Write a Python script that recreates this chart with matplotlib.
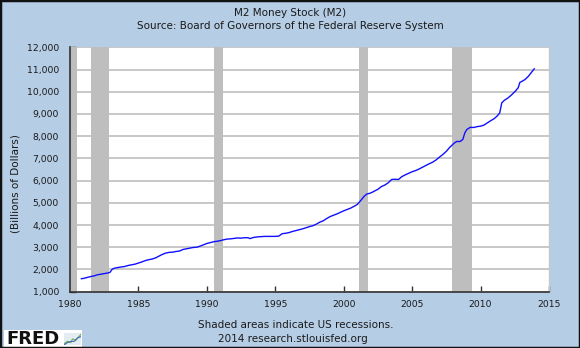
import matplotlib
matplotlib.use("Agg")
import matplotlib.pyplot as plt
from matplotlib.patches import Rectangle
from matplotlib.ticker import FuncFormatter, MultipleLocator

# ---- data ----
years = [1980.83, 1981.0, 1981.25, 1981.5, 1981.75, 1982.0, 1982.25, 1982.5, 1982.75, 1982.92,
         1983.08, 1983.25, 1983.5, 1983.75, 1984.0, 1984.25, 1984.5, 1984.75, 1985.0, 1985.25,
         1985.5, 1985.75, 1986.0, 1986.25, 1986.5, 1986.75, 1987.0, 1987.25, 1987.5, 1987.75,
         1988.0, 1988.25, 1988.5, 1988.75, 1989.0, 1989.25, 1989.5, 1989.75, 1990.0, 1990.25,
         1990.5, 1990.75, 1991.0, 1991.25, 1991.5, 1991.75, 1992.0, 1992.25, 1992.5, 1992.75,
         1993.0, 1993.15, 1993.4, 1993.75, 1994.0, 1994.25, 1994.5, 1994.75, 1995.0, 1995.25,
         1995.5, 1995.75, 1996.0, 1996.25, 1996.5, 1996.75, 1997.0, 1997.25, 1997.5, 1997.75,
         1998.0, 1998.25, 1998.5, 1998.75, 1999.0, 1999.25, 1999.5, 1999.75, 2000.0, 2000.25,
         2000.5, 2000.75, 2001.0, 2001.25, 2001.5, 2001.7, 2001.85, 2002.0, 2002.25, 2002.5,
         2002.75, 2003.0, 2003.25, 2003.5, 2003.75, 2004.0, 2004.25, 2004.5, 2004.75, 2005.0,
         2005.25, 2005.5, 2005.75, 2006.0, 2006.25, 2006.5, 2006.75, 2007.0, 2007.25, 2007.5,
         2007.75, 2007.92, 2008.1, 2008.25, 2008.5, 2008.7, 2008.85, 2009.0, 2009.25, 2009.5,
         2009.75, 2010.0, 2010.25, 2010.5, 2010.75, 2011.0, 2011.25, 2011.4, 2011.55, 2011.75,
         2012.0, 2012.25, 2012.5, 2012.75, 2012.87, 2013.0, 2013.25, 2013.5, 2013.75, 2013.92]
m2 = [1585, 1600, 1640, 1680, 1710, 1760, 1790, 1815, 1840, 1870,
      2010, 2060, 2090, 2115, 2135, 2180, 2210, 2240, 2290, 2340,
      2400, 2440, 2470, 2520, 2600, 2680, 2740, 2770, 2780, 2810,
      2830, 2900, 2930, 2960, 2990, 3000, 3050, 3110, 3170, 3210,
      3250, 3270, 3300, 3340, 3370, 3380, 3400, 3420, 3410, 3430,
      3430, 3390, 3440, 3470, 3480, 3490, 3490, 3490, 3490, 3500,
      3610, 3630, 3660, 3710, 3750, 3790, 3830, 3880, 3930, 3970,
      4040, 4130, 4190, 4290, 4380, 4440, 4500, 4570, 4640, 4700,
      4760, 4840, 4930, 5110, 5300, 5400, 5420, 5450, 5530, 5610,
      5730, 5800, 5900, 6050, 6060, 6050, 6180, 6260, 6330, 6400,
      6450, 6520, 6600, 6680, 6760, 6830, 6930, 7060, 7180, 7320,
      7500, 7600, 7700, 7760, 7760, 7850, 8150, 8300, 8400, 8390,
      8430, 8450, 8500, 8600, 8700, 8790, 8930, 9050, 9500, 9620,
      9720, 9850, 10000, 10180, 10420, 10460, 10550, 10700, 10900, 11030]

recession_start = [1980.0, 1981.5, 1990.5, 2001.1, 2007.88]
recession_end = [1980.5, 1982.85, 1991.15, 2001.8, 2009.4]

x_ticks = [1980, 1985, 1990, 1995, 2000, 2005, 2010, 2015]

title = "M2 Money Stock (M2)"
subtitle = "Source: Board of Governors of the Federal Reserve System"
ylabel = "(Billions of Dollars)"
note1 = "Shaded areas indicate US recessions."
note2 = "2014 research.stlouisfed.org"

# ---- styling ----
BG = "#B5CDE5"
W, H = 580, 348
plt.rcParams['font.family'] = ['DejaVu Sans']

fig = plt.figure(figsize=(W / 100, H / 100), dpi=100, facecolor=BG)

ax = fig.add_axes([70 / W, 1 - 291.7 / H, 479 / W, (291.7 - 47.3) / H])
ax.set_facecolor("white")

ax.set_xlim(1980, 2015)
ax.set_ylim(1000, 12000)

ax.yaxis.set_major_locator(MultipleLocator(1000))
ax.yaxis.set_major_formatter(FuncFormatter(lambda v, p: f"{int(v):,}"))
ax.set_xticks(x_ticks)
ax.set_xticklabels([str(t) for t in x_ticks])

ax.grid(axis="y", color="#C4C4C4", lw=1.3, zorder=1)
ax.set_axisbelow(True)

for s, e in zip(recession_start, recession_end):
    ax.axvspan(s, e, color="#BEBEBE", lw=0, zorder=2)

ax.plot(years, m2, color="#1010FF", lw=1.0, zorder=3)

ax.spines["top"].set_visible(False)
ax.spines["right"].set_color("#C8C8C8")
ax.spines["right"].set_linewidth(1.0)
ax.spines["left"].set_color("#333333")
ax.spines["bottom"].set_color("#333333")
ax.spines["left"].set_linewidth(1.2)
ax.spines["bottom"].set_linewidth(1.2)

ax.tick_params(axis="both", direction="in", length=4, width=1.0, color="#333333",
               labelsize=6.7, labelcolor="#1a1a1a")
ax.tick_params(axis="y", pad=8)
ax.tick_params(axis="x", pad=6)

fs = 7.5
fig.text(0.5, 1 - 12.5 / H, title, ha="center", va="center", fontsize=fs, color="#1a1a1a")
fig.text(0.5, 1 - 26 / H, subtitle, ha="center", va="center", fontsize=fs, color="#1a1a1a")
fig.text(16 / W, 1 - 184 / H, ylabel, ha="center", va="center", rotation=90,
         fontsize=fs, color="#1a1a1a")
fig.text(296 / W, 1 - 325 / H, note1, ha="center", va="center", fontsize=fs, color="#1a1a1a")
fig.text(293 / W, 1 - 339 / H, note2, ha="center", va="center", fontsize=fs, color="#1a1a1a")

# FRED logo box
fig.patches.append(Rectangle((4 / W, 1 - 347 / H), 78 / W, 17 / H, transform=fig.transFigure,
                             facecolor="white", edgecolor="none", zorder=5))
fig.text(6 / W, 1 - 338.5 / H, "FRED", ha="left", va="center", fontsize=13,
         fontweight="bold", color="#111111", zorder=6)
icon = fig.add_axes([64 / W, 1 - 345 / H, 17 / W, 12 / H], zorder=7)
icon.set_facecolor("#E4ECF3")
icon.set_xlim(0, 10)
icon.set_ylim(0, 10)
icon.plot([0, 2, 4, 5, 7, 10], [1, 3, 2, 5, 4, 9], color="#6FA84A", lw=0.8)
icon.plot([0, 2, 4, 6, 8, 10], [0, 2, 3, 3, 6, 7], color="#3D6FB6", lw=0.8)
icon.set_xticks([])
icon.set_yticks([])
for sp in icon.spines.values():
    sp.set_visible(False)

# outer black border
fig.patches.append(Rectangle((0, 0), 1, 1, transform=fig.transFigure, fill=False,
                             edgecolor="#111111", lw=2.5, zorder=10))

fig.savefig("out.png", dpi=100, facecolor=BG)
